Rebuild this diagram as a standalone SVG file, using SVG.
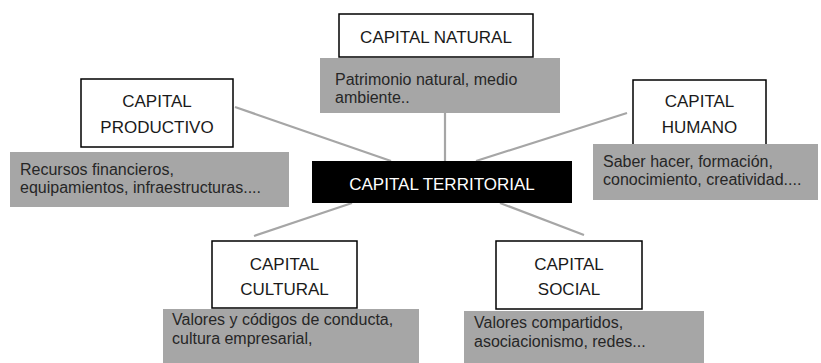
<svg xmlns="http://www.w3.org/2000/svg" width="821" height="363" viewBox="0 0 821 363">
<style>
.box{fill:#fff;stroke:#000;stroke-width:1.5}
.desc{fill:#a6a6a6}
.t{font-family:"Liberation Sans",Arial,sans-serif;font-size:17px;fill:#1a1a1a;text-anchor:middle}
.d{font-family:"Liberation Sans",Arial,sans-serif;font-size:16px;fill:#262626}
.c{stroke:#a6a6a6;stroke-width:2.2;fill:none}
</style>
<rect width="821" height="363" fill="#fff"/>
<g id="connectors">
<line class="c" x1="445" y1="113" x2="445" y2="161"/>
<line class="c" x1="235" y1="107" x2="391" y2="161"/>
<line class="c" x1="627" y1="113" x2="476" y2="161"/>
<line class="c" x1="352" y1="203" x2="254" y2="236"/>
<line class="c" x1="500" y1="203" x2="584" y2="235"/>
</g>
<g id="territorial">
<rect x="312" y="161" width="260" height="42" fill="#000"/>
<text class="t" x="442" y="190" style="fill:#fff">CAPITAL TERRITORIAL</text>
</g>
<g id="natural">
<rect class="box" x="339" y="14" width="194" height="43"/>
<text class="t" x="436" y="43">CAPITAL NATURAL</text>
<rect class="desc" x="320" y="58" width="240" height="55"/>
<text class="d" x="335" y="85">Patrimonio natural, medio</text>
<text class="d" x="335" y="103">ambiente..</text>
</g>
<g id="productivo">
<rect class="box" x="81" y="79" width="152" height="68"/>
<text class="t" x="157" y="107">CAPITAL</text>
<text class="t" x="157" y="133">PRODUCTIVO</text>
<rect class="desc" x="10" y="152" width="279" height="55"/>
<text class="d" x="20" y="175">Recursos financieros,</text>
<text class="d" x="20" y="193">equipamientos, infraestructuras....</text>
</g>
<g id="humano">
<rect class="box" x="633" y="80" width="133" height="67"/>
<text class="t" x="699.5" y="107">CAPITAL</text>
<text class="t" x="699.5" y="133">HUMANO</text>
<rect class="desc" x="593" y="144" width="225" height="56"/>
<text class="d" x="603" y="167">Saber hacer, formación,</text>
<text class="d" x="603" y="185">conocimiento, creatividad....</text>
</g>
<g id="cultural">
<rect class="box" x="212" y="241" width="145" height="67"/>
<text class="t" x="284.5" y="270">CAPITAL</text>
<text class="t" x="284.5" y="295">CULTURAL</text>
<rect class="desc" x="163" y="309" width="256" height="54"/>
<text class="d" x="172" y="325">Valores y códigos de conducta,</text>
<text class="d" x="172" y="344">cultura empresarial,</text>
</g>
<g id="social">
<rect class="box" x="496" y="241" width="146" height="68"/>
<text class="t" x="569" y="270">CAPITAL</text>
<text class="t" x="569" y="295">SOCIAL</text>
<rect class="desc" x="464" y="311" width="240" height="52"/>
<text class="d" x="474" y="328">Valores compartidos,</text>
<text class="d" x="474" y="347">asociacionismo, redes...</text>
</g>
</svg>
